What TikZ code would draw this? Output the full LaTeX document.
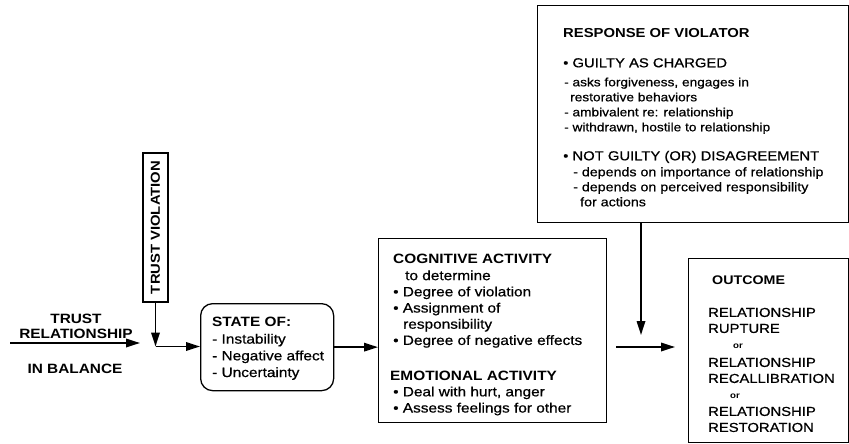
\documentclass[tikz,border=0pt]{standalone}
\usepackage{fontspec}
\setmainfont[FakeStretch=1.14, UprightFeatures={FakeBold=0.6}]{Liberation Sans}
\usetikzlibrary{arrows.meta}
\begin{document}
\begin{tikzpicture}[x=1pt,y=-1pt,
  box/.style={draw, line width=1.3pt, inner sep=0pt, anchor=north west},
  txt/.style={anchor=north west, inner sep=0pt, align=left},
  arr/.style={line width=1.7pt, -{Triangle[length=14pt,width=8.5pt]}},
  lab/.style={inner sep=0pt, font=\bfseries\fontsize{13.5}{15}\selectfont}]
\fill[white] (0,0) rectangle (849,444);
\useasboundingbox (0,0) rectangle (849,444);

% boxes
\node[box, minimum width=311pt, minimum height=217pt] (resp) at (537,5) {};
\node[box, minimum width=228pt, minimum height=184pt] (cog) at (378,238) {};
\node[box, rounded corners=12pt, minimum width=133pt, minimum height=87pt] (state) at (200,303) {};
\node[box, minimum width=160pt, minimum height=184pt] (out) at (688,258) {};
\node[draw, line width=1.3pt, inner sep=0pt, rotate=90, minimum width=149pt, minimum height=25pt,
      font=\bfseries\fontsize{13}{15}\selectfont] (viol) at (155.5,227.5) {TRUST VIOLATION};

% texts
\node[txt, font=\fontsize{13}{15}\selectfont] (resptext) at (563,28) {%
{\bfseries RESPONSE OF VIOLATOR}\\[15pt]
• GUILTY AS CHARGED\\[4pt]
{\fontsize{12}{15}\selectfont\hspace*{1pt}- asks forgiveness, engages in}\\
{\fontsize{12}{15}\selectfont\hspace*{7pt}restorative behaviors}\\
{\fontsize{12}{15}\selectfont\hspace*{1pt}- ambivalent re: relationship}\\
{\fontsize{12}{15}\selectfont\hspace*{1pt}- withdrawn, hostile to relationship}\\[14pt]
• NOT GUILTY (OR) DISAGREEMENT\\[1pt]
{\fontsize{12.5}{15}\selectfont\hspace*{10pt}- depends on importance of relationship}\\
{\fontsize{12.5}{15}\selectfont\hspace*{10pt}- depends on perceived responsibility}\\
{\fontsize{12.5}{15}\selectfont\hspace*{17pt}for actions}};

\node[txt, font=\fontsize{13.5}{16.2}\selectfont] (cogtext) at (393,254.3) {%
{\bfseries COGNITIVE ACTIVITY}\\
\hspace*{12pt}to determine\\
• Degree of violation\\
• Assignment of\\
\hspace*{10pt}responsibility\\
• Degree of negative effects\\[19pt]
\hspace*{-3pt}{\bfseries EMOTIONAL ACTIVITY}\\
• Deal with hurt, anger\\
• Assess feelings for other};

\node[txt, font=\fontsize{13.5}{16.7}\selectfont] (statetext) at (212,317.3) {%
{\bfseries STATE OF:}\\
- Instability\\
- Negative affect\\
- Uncertainty};

\node[txt, font=\fontsize{13}{16}\selectfont] (outtext) at (708,276) {%
\hspace*{4pt}{\bfseries\fontsize{12.5}{16}\selectfont OUTCOME}\\[16pt]
RELATIONSHIP\\
RUPTURE\\
\hspace*{25pt}{\bfseries\fontsize{8.5}{16}\selectfont or}\\[2pt]
RELATIONSHIP\\
RECALLIBRATION\\
\hspace*{22pt}{\bfseries\fontsize{8.5}{16}\selectfont or}\\[1pt]
RELATIONSHIP\\
RESTORATION};

\node[lab, align=center, anchor=south] (lab1) at (76,339) {TRUST\\RELATIONSHIP};
\node[lab, anchor=base] (lab2) at (75,373) {IN BALANCE};

% connectors
\coordinate (tin) at (10,343);
\coordinate (tend) at (140,343);
\coordinate (junc) at (155.5,346.5);
\coordinate (vend) at (641,335);
\coordinate (hy) at (0,347);
\draw[arr] (tin) -- (tend);
\draw[arr] (viol.west) -- (junc);
\draw[arr] (junc) -- (junc -| state.west);
\draw[arr] (state.east) -- (state.east -| cog.west);
\draw[arr] (vend |- resp.south) -- (vend);
\draw[arr, shorten <=9pt, shorten >=13pt] (cog.east |- hy) -- (out.west |- hy);
\end{tikzpicture}
\end{document}
